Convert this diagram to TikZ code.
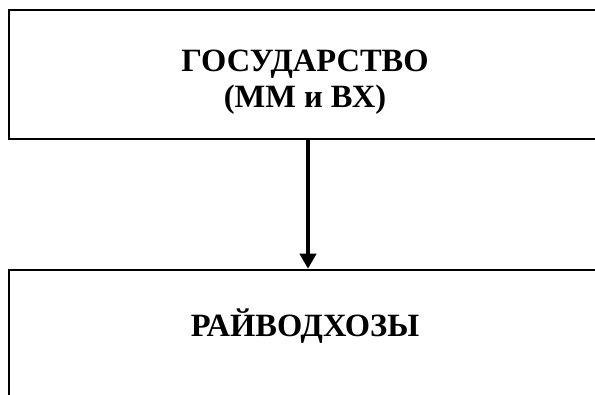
\documentclass[tikz,border=0pt]{standalone}
\usepackage{fontspec}
\setmainfont{Liberation Serif}
\usetikzlibrary{arrows.meta}
\tikzset{
  box/.style={draw=black, line width=2.5pt, rectangle, inner sep=0pt},
  lbl/.style={font=\bfseries\fontsize{32.5}{36}\selectfont, align=center, inner sep=0pt},
  conn/.style={line width=4.5pt, -{Triangle[length=15pt,width=16pt]}}
}
\begin{document}
\begin{tikzpicture}[x=1pt,y=-1pt]
\useasboundingbox (0,0) rectangle (595,395);
\clip (0,0) rectangle (595,395);
\fill[white] (0,0) rectangle (595,395);
\node[box, minimum width=592pt, minimum height=129pt] (gov) at (305,74.5) {};
\node[lbl, anchor=base] (govtxt) at (305,108) {ГОСУДАРСТВО\\(ММ и ВХ)};
\node[box, minimum width=592pt, minimum height=200pt] (rvhbox) at (305,370) {};
\node[lbl, anchor=base] (rvh) at (305,337) {РАЙВОДХОЗЫ};
\coordinate (ax) at (308,0);
\draw[conn] (gov.south -| ax) -- (rvhbox.north -| ax);
\end{tikzpicture}
\end{document}
